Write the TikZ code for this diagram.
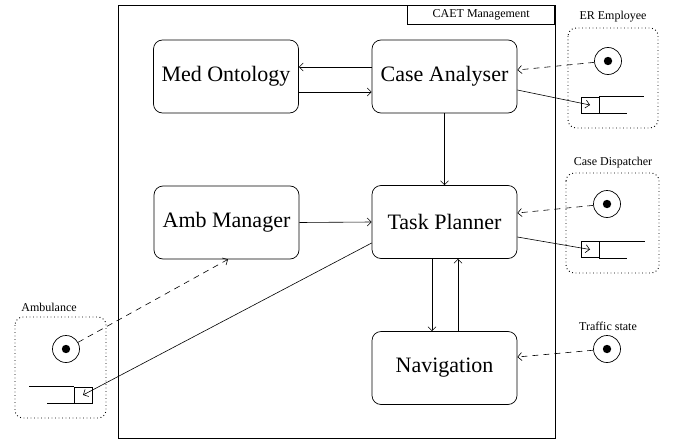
\documentclass[tikz,border=0pt]{standalone}
\usepackage{fontspec}
\setmainfont{Liberation Serif}
\usetikzlibrary{arrows.meta}
\begin{document}
\begin{tikzpicture}[x=1pt,y=-1pt,
  comp/.style={draw,rounded corners=9pt,minimum width=145pt,minimum height=73pt,inner sep=0pt,font=\fontsize{22}{24}\selectfont},
  lbl/.style={font=\fontsize{12}{14}\selectfont,inner sep=0pt},
  port/.style={draw,circle,minimum size=27pt,inner sep=0pt},
  qbox/.style={draw,minimum width=18pt,minimum height=16pt,inner sep=0pt},
  grp/.style={draw,dash pattern=on 0.9pt off 2.6pt,rounded corners=8pt,line width=0.9pt},
  flow/.style={-{Straight Barb[length=4pt,width=8pt]},semithick},
  dflow/.style={-{Straight Barb[length=4pt,width=8pt]},semithick,dash pattern=on 6pt off 5pt},
  line width=0.7pt]
\useasboundingbox (0,0) rectangle (679,444);
% main frame
\draw (118,5) rectangle (555,438);
\node[draw,minimum width=147pt,minimum height=19pt,inner sep=0pt,font=\fontsize{12}{14}\selectfont,anchor=north east] (title) at (555,5) {CAET Management};
% components
\node[comp] (mo) at (226,76.5) {Med Ontology};
\node[comp] (ca) at (444.5,76.5) {Case Analyser};
\node[comp] (am) at (226.5,222.5) {Amb Manager};
\node[comp] (tp) at (444.5,222) {Task Planner};
\node[comp] (nav) at (444.5,368) {Navigation};
% internal flows
\draw[flow] ([yshift=9.5pt]ca.west) -- ([yshift=9.5pt]mo.east);
\draw[flow] ([yshift=-15.5pt]mo.east) -- ([yshift=-15.5pt]ca.west);
\draw[flow] (ca.south) -- (tp.north);
\draw[flow] (am.east) -- (tp.west);
\draw[flow] ([xshift=-12.5pt]tp.south) -- ([xshift=-12.5pt]nav.north);
\draw[flow] ([xshift=13.5pt]nav.north) -- ([xshift=13.5pt]tp.south);
% ER Employee
\node[lbl] (erl) at (613,17) {ER Employee};
\draw[grp] (568,28) rectangle (658,128);
\node[port] (erc) at (608,61) {};
\fill (erc.center) circle (4.2pt);
\node[qbox] (erq) at (590,105) {};
\draw (erq.north east) -- ++(45,0);
\draw (erq.south east) -- ++(28,0);
\draw[dflow] (erc) -- ([yshift=6.5pt]ca.east);
\draw[flow] ([yshift=-13.5pt]ca.east) -- (erq.center);
% Case Dispatcher
\node[lbl] (cdl) at (613,163) {Case Dispatcher};
\draw[grp] (566,173) rectangle (659,273);
\node[port] (cdc) at (607,204) {};
\fill (cdc.center) circle (4.2pt);
\node[qbox] (cdq) at (590,249.5) {};
\draw (cdq.north east) -- ++(46,0);
\draw (cdq.south east) -- ++(28,0);
\draw[dflow] (cdc) -- ([yshift=9pt]tp.east);
\draw[flow] ([yshift=-15pt]tp.east) -- (cdq.center);
% Traffic state
\node[lbl] (tsl) at (608,326) {Traffic state};
\node[port] (tsc) at (607,349) {};
\fill (tsc.center) circle (4.2pt);
\draw[dflow] (tsc) -- ([yshift=11pt]nav.east);
% Ambulance
\node[lbl] (abl) at (49,307) {Ambulance};
\draw[grp] (15,317) rectangle (106,418);
\node[port] (abc) at (66,349) {};
\fill (abc.center) circle (4.2pt);
\node[qbox] (abq) at (83,395) {};
\draw (abq.north west) -- ++(-45,0);
\draw (abq.south west) -- ++(-27,0);
\draw[dflow] (abc) -- ([xshift=1.5pt]am.south);
\draw[flow] ([yshift=-21pt]tp.west) -- (abq.center);
\end{tikzpicture}
\end{document}
